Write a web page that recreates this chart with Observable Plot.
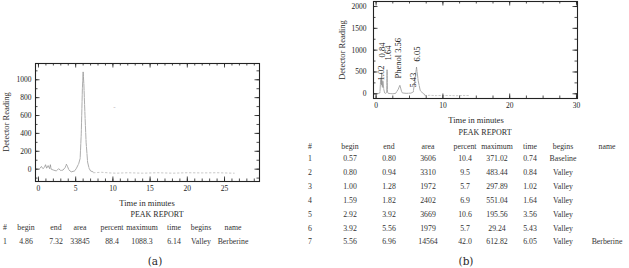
<!DOCTYPE html>
<html><head><meta charset="utf-8">
<script src="https://cdn.jsdelivr.net/npm/d3@7"></script>
<script src="https://cdn.jsdelivr.net/npm/@observablehq/plot@0.6"></script>
<style>
body{margin:0;background:#fff;}
#wrap{position:relative;width:629px;height:268px;overflow:hidden;font-family:"Liberation Serif","DejaVu Serif",serif;color:#2a2a2a;background:#fff;}
.abs{position:absolute;white-space:nowrap;line-height:1;}
#wrap svg{position:absolute;overflow:visible;}
</style></head><body><div id="wrap"></div>
<script>
// ---------- Panel (a) chromatogram trace ----------
const traceTimeA = [0.2,0.4,0.6,0.8,0.95,1.1,1.3,1.5,1.6,1.7,2.0,2.4,2.7,3.0,3.3,3.6,3.75,3.9,4.1,4.4,4.86,5.1,5.4,5.6,5.75,5.9,6.0,6.1,6.25,6.4,6.6,6.8,7.0,7.32];
const traceReadingA = [10,30,5,20,50,10,40,5,50,0,-10,-20,5,-15,-10,20,55,30,-10,-30,-20,10,60,120,400,900,1088,950,600,300,80,10,-20,-30];
const baseTimeA = [7.4,8.5,9.5,10.5,12,14,16,18,20,22,24,26.3];
const baseReadingA = [-40,-35,-42,-45,-40,-45,-40,-45,-40,-42,-40,-45];
const markTimeA = [10.2];
const markReadingA = [700];

// ---------- Panel (b) chromatogram trace ----------
const traceTimeB = [-0.2,0.3,0.57,0.65,0.74,0.78,0.80,0.84,0.9,0.94,1.02,1.15,1.28,1.4,1.59,1.64,1.7,1.82,2.5,2.92,3.3,3.56,3.8,3.92,4.5,5.2,5.43,5.56,5.8,6.05,6.3,6.6,6.96,7.3];
const traceReadingB = [0,5,20,250,371,200,250,483,200,150,298,100,20,10,30,551,40,10,0,10,100,196,60,20,10,15,29,40,300,613,300,80,15,-20];
const baseTimeB = [7.3,8,9,10,11,12,13,14];
const baseReadingB = [-40,-35,-42,-38,-40,-45,-38,-40];
const peakLabelsB = ["0.84","1.02","1.64","Phenol 3.56","5.43","6.05"];
const labelTimeB = [0.96,0.81,1.75,3.39,5.59,6.19];
const labelReadingB = [832,305,763,350,144,740];

// ---------- Tick values ----------
const majorXA = [0,5,10,15,20,25];
const minorXA = d3.range(0,30,1);
const majorYA = [0,200,400,600,800,1000];
const minorYA = d3.range(-100,1200,100);
const majorXB = [0,10,20,30];
const minorXB = d3.range(0,30.1,2.5);
const majorYB = [0,500,1000,1500,2000];
const minorYB = d3.range(0,2001,250);

// ---------- Peak report tables ----------
const headers = ["#","begin","end","area","percent","maximum","time","begins","name"];
const peakNoA = [1];
const beginA = ["4.86"];
const endA = ["7.32"];
const areaA = ["33845"];
const percentA = ["88.4"];
const maximumA = ["1088.3"];
const peakTimeA = ["6.14"];
const beginsA = ["Valley"];
const nameA = ["Berberine"];

const peakNoB = [1,2,3,4,5,6,7];
const beginB = ["0.57","0.80","1.00","1.59","2.92","3.92","5.56"];
const endB = ["0.80","0.94","1.28","1.82","3.92","5.56","6.96"];
const areaB = ["3606","3310","1972","2402","3669","1979","14564"];
const percentB = ["10.4","9.5","5.7","6.9","10.6","5.7","42.0"];
const maximumB = ["371.02","483.44","297.89","551.04","195.56","29.24","612.82"];
const peakTimeB = ["0.74","0.84","1.02","1.64","3.56","5.43","6.05"];
const beginsB = ["Baseline","Valley","Valley","Valley","Valley","Valley","Valley"];
const nameB = ["","","","","","","Berberine"];

const wrap = document.getElementById("wrap");
const FONT = '"Liberation Serif","DejaVu Serif",serif';

function pts(xs, ys){ return xs.map((x,i)=>({x, y: ys[i]})); }

function addText(txt, cx, cy, size, opts={}){
  const d = document.createElement("div");
  d.className = "abs";
  d.textContent = txt;
  d.style.left = cx + "px";
  d.style.top = cy + "px";
  d.style.fontSize = size + "px";
  if (opts.weight) d.style.fontWeight = opts.weight;
  if (opts.family) d.style.fontFamily = opts.family;
  if (opts.color) d.style.color = opts.color;
  d.style.transform = "translate(-50%,-50%)" + (opts.rotate ? " rotate(-90deg)" : "");
  wrap.appendChild(d);
}

function panel(cfg){
  const W = cfg.width - cfg.mL - cfg.mR;
  const H = cfg.height - cfg.mT - cfg.mB;
  const minL = 2.5, majL = 4.5;
  const tick = (vals, len) => [
    Plot.ruleX(vals, {stroke:"#222", strokeWidth:0.8, insetTop: H - len}),
    Plot.ruleX(vals, {stroke:"#222", strokeWidth:0.8, insetBottom: H - len}),
  ];
  const tickY = (vals, len) => [
    Plot.ruleY(vals, {stroke:"#222", strokeWidth:0.8, insetRight: W - len}),
    Plot.ruleY(vals, {stroke:"#222", strokeWidth:0.8, insetLeft: W - len}),
  ];
  const svg = Plot.plot({
    width: cfg.width, height: cfg.height,
    marginLeft: cfg.mL, marginRight: cfg.mR, marginTop: cfg.mT, marginBottom: cfg.mB,
    x: {domain: cfg.xDomain},
    y: {domain: cfg.yDomain},
    style: {fontFamily: FONT, fontSize: "7.5px", color: "#222", background: "transparent", overflow: "visible"},
    marks: [
      ...cfg.marks,
      ...tick(cfg.minorX, minL), ...tick(cfg.majorX, majL),
      ...tickY(cfg.minorY, minL), ...tickY(cfg.majorY, majL),
      Plot.frame({stroke:"#222", strokeWidth:1.1}),
      Plot.axisX(cfg.majorX, {tickSize:0, tickPadding: cfg.xPad, label:null, tickFormat: d => String(d)}),
      Plot.axisY(cfg.majorY, {tickSize:0, tickPadding: cfg.yPad, label:null, tickFormat: d => String(d)})
    ]
  });
  svg.style.left = cfg.left + "px";
  svg.style.top = cfg.top + "px";
  wrap.appendChild(svg);
}

// Panel (a)
panel({
  left: 0, top: 0, width: 300, height: 200,
  mL: 35, mR: 41, mT: 63, mB: 19,
  xDomain: [-0.4, 29.7], yDomain: [-138, 1182],
  majorX: majorXA, minorX: minorXA, majorY: majorYA, minorY: minorYA,
  xPad: 4, yPad: 4,
  marks: [
    Plot.line(pts(baseTimeA, baseReadingA), {x:"x", y:"y", stroke:"#b0b0b0", strokeWidth:0.7, strokeDasharray:"1.5,2.5"}),
    Plot.line(pts(traceTimeA, traceReadingA), {x:"x", y:"y", stroke:"#8a8a8a", strokeWidth:0.7, strokeDasharray:"6,1"}),
    Plot.text(pts(markTimeA, markReadingA), {x:"x", y:"y", text: () => "-", fill:"#aaa", fontSize: 7})
  ]
});

// Panel (b)
panel({
  left: 310, top: 0, width: 319, height: 130,
  mL: 63, mR: 52, mT: 1, mB: 32,
  xDomain: [-0.39, 30.15], yDomain: [-108, 2115],
  majorX: majorXB, minorX: minorXB, majorY: majorYB, minorY: minorYB,
  xPad: 4.5, yPad: 7,
  marks: [
    Plot.line(pts(baseTimeB, baseReadingB), {x:"x", y:"y", stroke:"#b0b0b0", strokeWidth:0.7, strokeDasharray:"1.5,2"}),
    Plot.line(pts(traceTimeB, traceReadingB), {x:"x", y:"y", stroke:"#8a8a8a", strokeWidth:0.7, strokeDasharray:"6,1"}),
    Plot.text(peakLabelsB.map((t,i)=>({t, x: labelTimeB[i], y: labelReadingB[i]})), {
      x:"x", y:"y", text:"t", rotate:-90, textAnchor:"start", lineAnchor:"middle",
      fontSize: 8.5, fill:"#222", fontWeight: d => d.t.startsWith("Phenol") ? "bold" : "normal"
    })
  ]
});

// Axis titles
addText("Detector Reading", 6, 122, 8.5, {rotate:true});
addText("Time in minutes", 147, 203, 8.5);
addText("PEAK REPORT", 157, 214.5, 8);
addText("Detector Reading", 342, 49.5, 8.5, {rotate:true});
addText("Time in minutes", 476, 120, 8.5);
addText("PEAK REPORT", 485, 132.5, 8);

// Tables
const colXA = [5, 26, 56, 80, 112, 142, 174, 201, 233];
const colsA = [peakNoA, beginA, endA, areaA, percentA, maximumA, peakTimeA, beginsA, nameA];
headers.forEach((h,j)=> addText(h, colXA[j], 228, 7.8, {color:"#333"}));
peakNoA.forEach((_,i)=> colsA.forEach((col,j)=> addText(String(col[i]), colXA[j], 242, 7.8, {color:"#333"})));

const colXB = [310, 350, 389, 428, 465, 497, 530, 563, 607];
const colsB = [peakNoB, beginB, endB, areaB, percentB, maximumB, peakTimeB, beginsB, nameB];
headers.forEach((h,j)=> addText(h, colXB[j], 146.5, 7.8, {color:"#333"}));
peakNoB.forEach((_,i)=> colsB.forEach((col,j)=> { if (String(col[i])) addText(String(col[i]), colXB[j], 159 + i*13.9, 7.8, {color:"#333"}); }));

addText("(a)", 155, 261, 10.5, {family: '"DejaVu Serif",serif'});
addText("(b)", 466, 261, 10.5, {family: '"DejaVu Serif",serif'});
</script></body></html>
